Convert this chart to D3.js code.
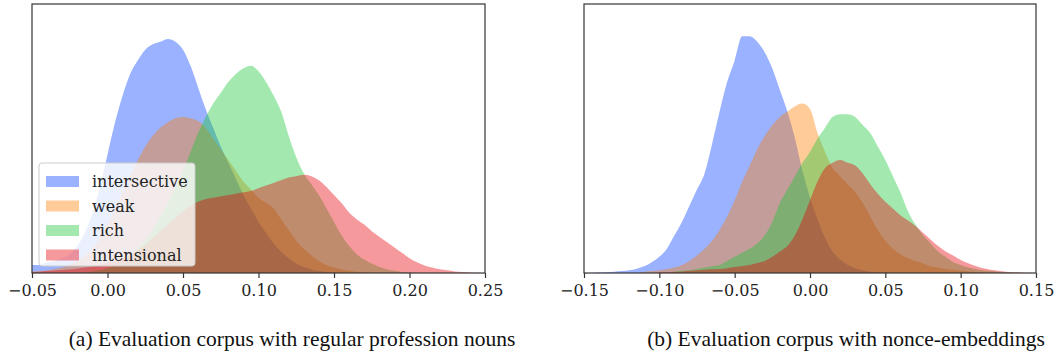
<!DOCTYPE html>
<html>
<head>
<meta charset="utf-8">
<script src="https://cdnjs.cloudflare.com/ajax/libs/d3/7.8.5/d3.min.js"></script>
<style>
  body { margin: 0; background: #fff; }
  svg { display: block; }
  .axis text { font-family: "DejaVu Serif", serif; font-size: 16px; fill: #222; }
  .axis line, .axis path { stroke: #333; }
  .caption { font-family: "Liberation Serif", "Times New Roman", serif; font-size: 21.5px; fill: #111; }
  .legend text { font-family: "DejaVu Serif", serif; font-size: 16px; fill: #222; }
</style>
</head>
<body>
<svg id="chart" width="1055" height="356"></svg>
<script>
const seriesNames = ["intersective", "weak", "rich", "intensional"];
const seriesColors = ["#023eff", "#ff7c00", "#1ac938", "#e8000b"];
const fillAlpha = 0.4;

// (a) regular profession nouns -- histogram heights (% of axis height), bins every 0.005 from -0.05
const binStartA = -0.05, binStepA = 0.005;
const intersectiveA = [3,3,4,4.5,5.5,7,10,15,22,32, 44,56,66,74,79,83,85,86,87,86,
  83,77,69,61,54,47,41,35,29,24, 19,15,11,8,5.5,3.5,2.2,1.3,0.7,0.4,
  0.2,0,0,0,0,0,0,0,0,0, 0,0,0,0,0,0,0,0,0,0, 0];
const weakA = [0.5,0.7,1,1.5,2,3,4.5,6.5,9,13, 18,24,30,36,42,47,51,54,56,57.5,
  58,57.5,56.5,54,50,46,42,38,34,31, 28,26,24,20,16,12,9,6.5,4.5,3,
  2,1.3,0.8,0.5,0.3,0,0,0,0,0, 0,0,0,0,0,0,0,0,0,0, 0];
const richA = [0,0,0,0,0,0,0,0.3,0.6,1, 1.8,3,4.5,6.5,9,12,16,21,26,32,
  38,45,52,58,63,67,71,74,76,77, 75,71,66,60,51,43,37,33,29,24,
  19,14,10,7,5,3.5,2.2,1.4,0.8,0.4, 0.2,0,0,0,0,0,0,0,0,0, 0];
const intensionalA = [0.3,0.5,0.7,0.9,1.1,1.3,1.6,2,2.4,3, 3.7,4.5,5.5,6.8,8.5,10.5,13,15.5,18,20.5,
  23,25,26.5,27.5,28,28.5,29,29.5,30,30.5, 31.5,32.5,33.5,34.5,35.5,36,36.5,36,34.5,32,
  29,26,22.5,20,18,15.5,13.5,11.5,9.5,7.5, 5.5,4,2.8,2,1.4,1,0.6,0.4,0.2,0.1, 0];
const ticksA = [-0.05, 0, 0.05, 0.1, 0.15, 0.2, 0.25];
const tickLabelsA = ["\u22120.05", "0.00", "0.05", "0.10", "0.15", "0.20", "0.25"];
const captionA = "(a) Evaluation corpus with regular profession nouns";

// (b) nonce-embeddings -- bins every 0.005 from -0.15
const binStartB = -0.15, binStepB = 0.005;
const intersectiveB = [0,0,0.2,0.3,0.5,0.7,1,1.6,2.5,4, 6,9,14,19,25,31,37,48,60,71,
  79,88,88,86,82,76,68,60,50,38, 28,20,13,8,5,3,1.8,1,0.5,0.3,
  0.1,0,0,0,0,0,0,0,0,0, 0,0,0,0,0,0,0,0,0,0, 0];
const weakB = [0,0,0,0,0,0,0,0,0.5,0.7, 1,1.5,2,3,4.5,6.5,9,12,16,21,
  27,34,40,46,51,55,58,60,62,63, 61,52,45,39,36,33,30,26,21,16,
  12,9,7,5.5,4.5,3.5,2.5,2,1.5,1.2, 0.8,0.6,0.4,0.2,0,0,0,0,0,0, 0];
const richB = [0,0,0,0,0,0,0,0,0,0, 0,0,0.5,0.8,1,1.5,2,2.5,3,4.5,
  6,7.5,9,11,14,19,26,31,36,41, 45,50,54,58,59,59,58,55,52,47,
  42,36,30,23,18,14,11,8,6,4, 3,2,1.5,1,0.7,0.5,0.3,0.1,0,0, 0];
const intensionalB = [0,0,0,0,0,0,0,0,0,0, 0.3,0.4,0.5,0.6,0.8,1,1.2,1.4,1.5,1.8,
  2.2,2.6,3,3.7,4.5,6,8,10,14,20, 27,34,39,41,42,41,40,37,33,29.5,
  26.5,24,21.5,19.5,17.5,15,12.5,10,8,6.5, 4.8,3.6,2.6,1.8,1.2,0.8,0.5,0.3,0.2,0.1, 0];
const ticksB = [-0.15, -0.1, -0.05, 0, 0.05, 0.1, 0.15];
const tickLabelsB = ["\u22120.15", "\u22120.10", "\u22120.05", "0.00", "0.05", "0.10", "0.15"];
const captionB = "(b) Evaluation corpus with nonce-embeddings";

const svg = d3.select("#chart");
svg.append("rect").attr("width", 1055).attr("height", 356).attr("fill", "#fff");

const plotTop = 4, plotH = 269;

const panels = [
  { left: 32, width: 453, domain: [-0.05, 0.25], start: binStartA, step: binStepA,
    series: [intersectiveA, weakA, richA, intensionalA], ticks: ticksA, labels: tickLabelsA,
    caption: captionA, captionX: 292, legend: true },
  { left: 584, width: 452, domain: [-0.15, 0.15], start: binStartB, step: binStepB,
    series: [intersectiveB, weakB, richB, intensionalB], ticks: ticksB, labels: tickLabelsB,
    caption: captionB, captionX: 846, legend: false }
];

panels.forEach((p, pi) => {
  const g = svg.append("g").attr("transform", `translate(${p.left},${plotTop})`);
  const x = d3.scaleLinear().domain(p.domain).range([0, p.width]);
  const y = d3.scaleLinear().domain([0, 100]).range([plotH, 0]);

  g.append("clipPath").attr("id", "clip" + pi)
    .append("rect").attr("width", p.width).attr("height", plotH);

  const area = d3.area()
    .curve(d3.curveMonotoneX)
    .x((d, i) => x(p.start + i * p.step))
    .y0(plotH)
    .y1(d => y(d));

  const marks = g.append("g").attr("clip-path", `url(#clip${pi})`);
  p.series.forEach((s, k) => {
    marks.append("path")
      .datum(s)
      .attr("d", area)
      .attr("fill", seriesColors[k])
      .attr("fill-opacity", fillAlpha);
  });

  // bottom axis
  g.append("g")
    .attr("class", "axis")
    .attr("transform", `translate(0,${plotH})`)
    .call(d3.axisBottom(x).tickValues(p.ticks).tickFormat((d, i) => p.labels[i])
      .tickSizeInner(5).tickSizeOuter(0).tickPadding(7))
    .call(a => a.select(".domain").remove())
    .selectAll("line").attr("stroke-width", 1.2);

  // frame
  g.append("rect")
    .attr("width", p.width).attr("height", plotH)
    .attr("fill", "none").attr("stroke", "#333").attr("stroke-width", 1.2);

  svg.append("text")
    .attr("class", "caption")
    .attr("x", p.captionX).attr("y", 346)
    .attr("text-anchor", "middle")
    .text(p.caption);

  if (p.legend) {
    const lg = g.append("g").attr("class", "legend").attr("transform", "translate(7,159)");
    lg.append("rect")
      .attr("width", 156).attr("height", 103).attr("rx", 3)
      .attr("fill", "#fff").attr("fill-opacity", 0.8)
      .attr("stroke", "#ccc").attr("stroke-width", 1);
    const rows = lg.selectAll("g.row").data(seriesNames).enter().append("g")
      .attr("class", "row")
      .attr("transform", (d, i) => `translate(0,${13 + i * 24.5})`);
    rows.append("rect")
      .attr("x", 7).attr("width", 33).attr("height", 11)
      .attr("fill", (d, i) => seriesColors[i]).attr("fill-opacity", fillAlpha);
    rows.append("text")
      .attr("x", 53).attr("y", 5.5).attr("dy", "0.35em")
      .text(d => d);
  }
});
</script>
</body>
</html>
